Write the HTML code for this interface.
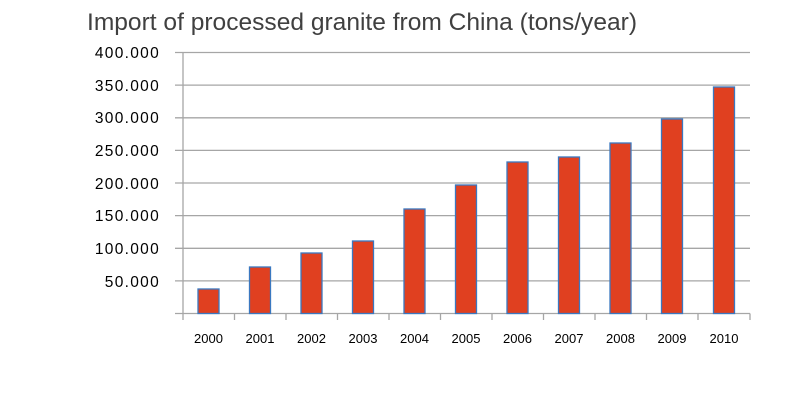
<!DOCTYPE html>
<html><head><meta charset="utf-8"><style>
html,body{margin:0;padding:0;background:#fff;width:800px;height:400px;overflow:hidden}
</style></head><body>
<svg width="800" height="400" xmlns="http://www.w3.org/2000/svg" font-family="Liberation Sans, Arial, sans-serif">
<text x="87" y="30" font-size="24.5" fill="#404040" textLength="550" lengthAdjust="spacingAndGlyphs">Import of processed granite from China (tons/year)</text>
<g stroke="#a6a6a6" stroke-width="1.3">
<line x1="175" y1="52.5" x2="750" y2="52.5"/>
<line x1="175" y1="85.1" x2="750" y2="85.1"/>
<line x1="175" y1="117.8" x2="750" y2="117.8"/>
<line x1="175" y1="150.4" x2="750" y2="150.4"/>
<line x1="175" y1="183" x2="750" y2="183"/>
<line x1="175" y1="215.6" x2="750" y2="215.6"/>
<line x1="175" y1="248.3" x2="750" y2="248.3"/>
<line x1="175" y1="280.9" x2="750" y2="280.9"/>
<line x1="175" y1="313.5" x2="750" y2="313.5"/>
<line x1="183" y1="52" x2="183" y2="313.5"/>
<line x1="183" y1="313.5" x2="183" y2="320"/>
<line x1="234.5" y1="313.5" x2="234.5" y2="320"/>
<line x1="286" y1="313.5" x2="286" y2="320"/>
<line x1="337.5" y1="313.5" x2="337.5" y2="320"/>
<line x1="389" y1="313.5" x2="389" y2="320"/>
<line x1="440.5" y1="313.5" x2="440.5" y2="320"/>
<line x1="492" y1="313.5" x2="492" y2="320"/>
<line x1="543.5" y1="313.5" x2="543.5" y2="320"/>
<line x1="595" y1="313.5" x2="595" y2="320"/>
<line x1="646.5" y1="313.5" x2="646.5" y2="320"/>
<line x1="698" y1="313.5" x2="698" y2="320"/>
<line x1="750" y1="313.5" x2="750" y2="320"/>
</g>
<g font-size="15.5" fill="#000" text-anchor="end" letter-spacing="1.3">
<text x="160" y="58">400.000</text>
<text x="160" y="91">350.000</text>
<text x="160" y="123">300.000</text>
<text x="160" y="156">250.000</text>
<text x="160" y="189">200.000</text>
<text x="160" y="221">150.000</text>
<text x="160" y="254">100.000</text>
<text x="160" y="287">50.000</text>
</g>
<g fill="#e04020" stroke="#3a78c0" stroke-width="1.3">
<rect x="198" y="289" width="21" height="24.5"/>
<rect x="249.5" y="267" width="21" height="46.5"/>
<rect x="301" y="253" width="21" height="60.5"/>
<rect x="352.5" y="241" width="21" height="72.5"/>
<rect x="404" y="209" width="21" height="104.5"/>
<rect x="455.5" y="185" width="21" height="128.5"/>
<rect x="507" y="162" width="21" height="151.5"/>
<rect x="558.5" y="157" width="21" height="156.5"/>
<rect x="610" y="143" width="21" height="170.5"/>
<rect x="661.5" y="119" width="21" height="194.5"/>
<rect x="713.5" y="87" width="21" height="226.5"/>
</g>
<g font-size="13" fill="#000" text-anchor="middle">
<text x="208.5" y="343">2000</text>
<text x="260" y="343">2001</text>
<text x="311.5" y="343">2002</text>
<text x="363" y="343">2003</text>
<text x="414.5" y="343">2004</text>
<text x="466" y="343">2005</text>
<text x="517.5" y="343">2006</text>
<text x="569" y="343">2007</text>
<text x="620.5" y="343">2008</text>
<text x="672" y="343">2009</text>
<text x="724" y="343">2010</text>
</g>
</svg>
</body></html>
